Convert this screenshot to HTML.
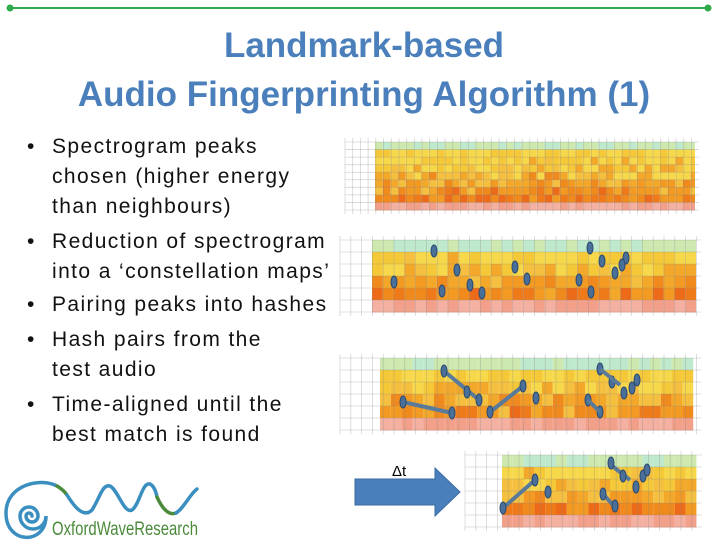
<!DOCTYPE html>
<html><head><meta charset="utf-8"><style>
body{margin:0;background:#fff;width:728px;height:546px;overflow:hidden;position:relative;font-family:"Liberation Sans",sans-serif}
.t{position:absolute;left:0;width:728px;text-align:center;color:#4a7fbc;font-weight:bold;font-size:35px}
.b{position:absolute;left:27px;font-size:21px;letter-spacing:1.4px;color:#111;line-height:30px}
.b span{position:absolute;left:0}
.b div{padding-left:25px;white-space:nowrap}
</style></head><body>
<svg width="728" height="546" style="position:absolute;left:0;top:0">
<line x1="10" y1="8" x2="708" y2="8" stroke="#2eaa4a" stroke-width="2"/>
<circle cx="10" cy="8" r="3.5" fill="#2eaa4a"/><circle cx="708" cy="8" r="3.5" fill="#2eaa4a"/>
<g id="specs"></g>
<polygon points="355,479 435,479 435,468 460,492 435,516 435,505 355,505" fill="#4a7fbc" stroke="#3a6aa0"/>
<text x="392" y="476" font-size="15" font-family="Liberation Sans">Δt</text>
<g fill="none" stroke-width="3.5" stroke-linecap="round">
<path d="M32,516 A3,3 0 0,0 26,516 A6,6 0 0,0 38,516 A9,9 0 0,0 20,516 A13,13 0 0,0 46,516 C46,545 6,545 6,513 C6,485 40,477 57,486" stroke="#3a8fc0"/>
<path d="M57,486 C62,489 65,492 67,495" stroke="#4a8a3a"/>
<path d="M67,495 C75,508 84,518 92,510 C100,498 102,484 110,486 C118,490 124,514 132,510 C140,504 142,482 150,484 C154,486 156,492 157,497" stroke="#3a8fc0"/>
<path d="M157,497 C162,508 168,516 176,513" stroke="#4a8a3a"/>
<path d="M176,513 C184,508 190,494 197,489" stroke="#3a8fc0"/>
</g>
<text x="52" y="535" font-size="19" fill="#4a8a3a" font-family="Liberation Sans" textLength="146" lengthAdjust="spacingAndGlyphs">OxfordWaveResearch</text>
</svg>
<div class="t" style="top:26px">Landmark-based</div>
<div class="t" style="top:75px">Audio Fingerprinting Algorithm (1)</div>
<div class="b" style="top:132px"><span>•</span><div>Spectrogram peaks</div><div>chosen (higher energy</div><div>than neighbours)</div></div>
<div class="b" style="top:227px"><span>•</span><div>Reduction of spectrogram</div><div>into a ‘constellation maps’</div></div>
<div class="b" style="top:290px"><span>•</span><div>Pairing peaks into hashes</div></div>
<div class="b" style="top:325px"><span>•</span><div>Hash pairs from the</div><div>test audio</div></div>
<div class="b" style="top:390px"><span>•</span><div>Time-aligned until the</div><div>best match is found</div></div>
<script>
var g=document.getElementById('specs'),s='';
var seed=7;function r(){seed=(seed*9301+49297)%233280;return seed/233280;}
function pal(row){var c=[['#cde9b0','#bfe9cc'],['#f7d84a','#f5c838'],['#f5c040','#f3a82a'],['#f29a22','#f08a1c'],['#ef7a1a','#ec6a18'],['#f3a08a','#f4b0a0']];var i=Math.min(row,c.length-1);return c[i][r()<0.5?0:1];}
function panel(gx,x0,y0,x1,y1,cw,rows){
 var rh=(y1-y0)/rows;
 for(var i=0;i<rows;i++)for(var x=x0;x<x1-cw/2;x+=cw){
  var w=Math.min(cw,x1-x);
  var row=i==0?0:(i==rows-1?5:Math.min(4,Math.max(1,Math.round(i*4/(rows-1)+(r()-0.5)*1.6))));
  s+='<rect x="'+x+'" y="'+(y0+i*rh)+'" width="'+w+'" height="'+(rh+0.5)+'" fill="'+pal(row)+'"/>';}
 for(var x=gx;x<=x1+4;x+=cw)s+='<line x1="'+x+'" y1="'+(y0-4)+'" x2="'+x+'" y2="'+(y1+4)+'" stroke="#888" stroke-opacity="0.35" stroke-width="0.8"/>';
 for(var i=0;i<=rows;i++)s+='<line x1="'+gx+'" y1="'+(y0+i*rh)+'" x2="'+(x1+4)+'" y2="'+(y0+i*rh)+'" stroke="#888" stroke-opacity="0.35" stroke-width="0.8"/>';
}
panel(345,375,142,695,210,7.7,9);
panel(340,372,240,697,312,10.8,6);
panel(340,380,358,697,430,10.8,6);
panel(465,502,455,698,527,10.8,6);
function dots(a){a.forEach(function(p){s+='<ellipse cx="'+p[0]+'" cy="'+p[1]+'" rx="3" ry="6" fill="#4a6f98" stroke="#2a4a70"/>';});}
function lines(a){a.forEach(function(p){s+='<line x1="'+p[0]+'" y1="'+p[1]+'" x2="'+p[2]+'" y2="'+p[3]+'" stroke="#5a7a9a" stroke-width="4"/>';});}
dots([[434,251],[394,282],[457,270],[470,285],[482,293],[515,267],[527,279],[590,248],[602,261],[626,258],[615,273],[622,265],[579,280],[591,292],[442,291]]);
lines([[403,402,452,413],[444,371,479,400],[490,412,523,386]]);
dots([[403,402],[452,413],[444,371],[467,392],[479,400],[490,412],[523,386],[536,398],[600,369],[612,382],[624,393],[637,380],[632,388],[588,400],[600,412]]);
lines([[600,369,620,385],[588,400,600,412]]);
lines([[503,508,535,480],[611,465,630,480],[603,494,613,505]]);
dots([[503,508],[535,480],[548,492],[611,463],[623,476],[636,487],[643,476],[647,470],[603,494],[615,506]]);
g.innerHTML=s;
</script>
</body></html>
